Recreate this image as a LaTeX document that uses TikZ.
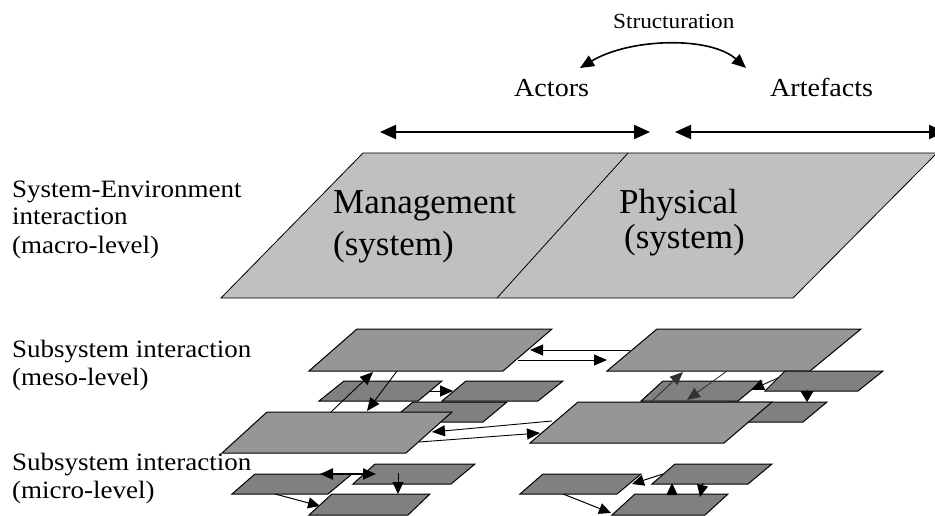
\documentclass[tikz,border=0pt]{standalone}
\usepackage{fontspec}
\setmainfont{Liberation Serif}
\newfontfamily\widefont{Liberation Serif}[FakeStretch=1.08]
\usetikzlibrary{arrows.meta}
\definecolor{macrofill}{RGB}{192,192,192}
\definecolor{mesofill}{RGB}{150,150,150}
\definecolor{smallfill}{RGB}{128,128,128}
\definecolor{darkarrow}{RGB}{50,50,50}
\begin{document}
\begin{tikzpicture}[x=1pt,y=-1pt,
  macro/.style={draw=black, line width=0.8pt, fill=macrofill},
  meso/.style={draw=black, line width=1pt, fill=mesofill},
  small/.style={draw=black, line width=1pt, fill=smallfill},
  lbl/.style={anchor=base west, inner sep=0pt, font=\widefont\fontsize{25}{28}\selectfont},
  head/.style={anchor=base west, inner sep=0pt, font=\widefont\fontsize{26}{30}\selectfont},
  big/.style={anchor=base west, inner sep=0pt, font=\fontsize{35}{40}\selectfont},
  span/.style={line width=2pt, {Triangle[length=16pt,width=14pt]}-{Triangle[length=16pt,width=14pt]}},
  conn/.style={line width=0.9pt, -{Triangle[length=13pt,width=11pt]}},
  dconn/.style={conn, draw=darkarrow, color=darkarrow},
  micro/.style={line width=1pt, -{Triangle[length=12pt,width=11pt]}}
]
\useasboundingbox (0,0) rectangle (935,516);
\clip (0,0) rectangle (935,516);

% ---- top labels and arrows
\node[anchor=base west, inner sep=0pt, font=\widefont\fontsize{21.5}{25}\selectfont] (struct) at (613,29) {Structuration};
\node[head] (actors) at (514,97) {Actors};
\node[head] (artefacts) at (770,97) {Artefacts};
\coordinate (stL) at (580,68);
\coordinate (stR) at (746,68);
\draw[line width=1.6pt, {Triangle[length=14pt,width=12pt]}-{Triangle[length=14pt,width=12pt]}]
  (stL) .. controls (630,38) and (710,36) .. (stR);
\coordinate (acL) at (380,132);
\coordinate (acR) at (650,132);
\coordinate (arL) at (675,132);
\coordinate (arR) at (945,132);
\draw[span] (acL) -- (acR);
\draw[span] (arL) -- (arR);

% ---- left labels
\node[lbl] (se1) at (12,197) {System-Environment};
\node[lbl] (se2) at (12,225) {interaction};
\node[lbl] (se3) at (12,253) {(macro-level)};
\node[lbl] (ms1) at (12,357) {Subsystem interaction};
\node[lbl] (ms2) at (12,385) {(meso-level)};
\node[lbl] (mi1) at (12,470) {Subsystem interaction};
\node[lbl] (mi2) at (12,498) {(micro-level)};

% ---- macro level
\draw[macro] (221,298) -- (363,153) -- (937,153) -- (793,298) -- cycle;
\draw[line width=0.8pt] (497,298) -- (628,153);
\node[big] (mgmt1) at (333,213) {Management};
\node[big] (mgmt2) at (333,255) {(system)};
\node[big] (phys1) at (619,214) {Physical};
\node[big] (phys2) at (624,248) {(system)};

% ---- meso level, left cluster
\draw[meso]  (309,371) -- (503,371) -- (552,329) -- (357,329) -- cycle;
\draw[small] (319,401) -- (418,401) -- (442,381) -- (344,381) -- cycle;
\draw[small] (442,401) -- (538,401) -- (563,381) -- (466,381) -- cycle;
\draw[small] (389,422) -- (483,422) -- (507,402) -- (413,402) -- cycle;
\coordinate (a5up) at (331,412);
\coordinate (a1dn) at (373,372);
\coordinate (a1st) at (397,371);
\coordinate (a5dn) at (367,411);
\draw[conn] (a5up) -- (a1dn);
\draw[conn] (a1st) -- (a5dn);
\coordinate (a2r) at (429,391);
\coordinate (a3l) at (453,391);
\draw[conn] (a2r) -- (a3l);
\draw[meso]  (222,453) -- (406,453) -- (452,412) -- (267,412) -- cycle;

% ---- meso level, right cluster
\draw[meso]  (607,371) -- (810,371) -- (861,329) -- (657,329) -- cycle;
\draw[small] (641,401) -- (738,401) -- (762,381) -- (663,381) -- cycle;
\draw[small] (765,391) -- (858,391) -- (883,371) -- (785,371) -- cycle;
\draw[small] (705,422) -- (803,422) -- (827,402) -- (729,402) -- cycle;
\coordinate (b5up) at (652,401);
\coordinate (b1dn) at (683,372);
\coordinate (b1st) at (727,371);
\coordinate (b5dn) at (687,400);
\draw[dconn] (b5up) -- (b1dn);
\draw[dconn] (b1st) -- (b5dn);
\coordinate (b3l) at (778,378);
\coordinate (b2r) at (751,390);
\draw[conn] (b3l) -- (b2r);
\coordinate (b3b) at (807,390);
\coordinate (b4t) at (807,402);
\draw[line width=0.9pt, -{Triangle[length=11pt,width=13pt]}] (b3b) -- (b4t);
\draw[meso]  (530,443) -- (724,443) -- (772,402) -- (578,402) -- cycle;

% ---- meso connectors between clusters
\coordinate (b1l) at (630,350);
\coordinate (a1r) at (530,350);
\coordinate (a1r2) at (518,360);
\coordinate (b1l2) at (607,360);
\draw[conn] (b1l) -- (a1r);
\draw[conn] (a1r2) -- (b1l2);
\coordinate (b5l) at (552,421);
\coordinate (a5r) at (432,432);
\coordinate (a5r2) at (419,442);
\coordinate (b5l2) at (540,433);
\draw[conn] (b5l) -- (a5r);
\draw[conn] (a5r2) -- (b5l2);

% ---- micro level, left
\draw[small] (232,494) -- (328,494) -- (352,474) -- (255,474) -- cycle;
\draw[small] (353,484) -- (451,484) -- (475,464) -- (375,464) -- cycle;
\draw[small] (309,515) -- (408,515) -- (430,494) -- (332,494) -- cycle;
\coordinate (c1t) at (320,474);
\coordinate (c2l) at (376,474);
\draw[line width=2pt, {Triangle[length=13pt,width=11pt]}-{Triangle[length=13pt,width=11pt]}] (c1t) -- (c2l);
\coordinate (c2m) at (398,473);
\coordinate (c3t) at (398,494);
\draw[micro] (c2m) -- (c3t);
\coordinate (c1b) at (275,494);
\coordinate (c3l) at (320,506);
\draw[micro] (c1b) -- (c3l);

% ---- micro level, right
\draw[small] (520,494) -- (617,494) -- (641,474) -- (543,474) -- cycle;
\draw[small] (652,484) -- (748,484) -- (772,464) -- (675,464) -- cycle;
\draw[small] (612,515) -- (705,515) -- (728,494) -- (635,494) -- cycle;
\coordinate (d2l) at (663,474);
\coordinate (d1r) at (632,484);
\draw[micro] (d2l) -- (d1r);
\coordinate (d3t) at (672,494);
\coordinate (d2b) at (672,483);
\draw[micro] (d3t) -- (d2b);
\coordinate (d2b2) at (703,483);
\coordinate (d3t2) at (700,497);
\draw[micro] (d2b2) -- (d3t2);
\coordinate (d1b) at (563,494);
\coordinate (d3l) at (611,513);
\draw[micro] (d1b) -- (d3l);
\end{tikzpicture}
\end{document}
